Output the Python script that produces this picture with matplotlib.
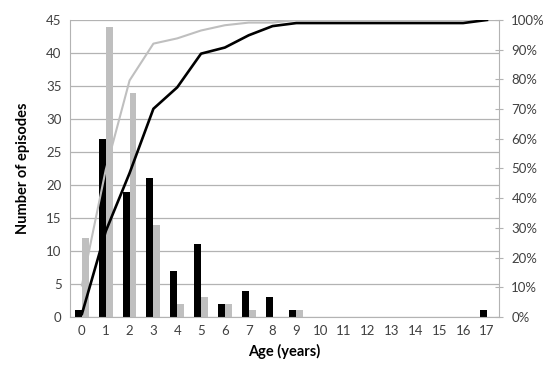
import numpy as np
import matplotlib
matplotlib.use("Agg")
import matplotlib.pyplot as plt
from matplotlib.ticker import PercentFormatter

plt.rcParams['font.family'] = ['Lato', 'DejaVu Sans']

# episodes per age, two groups
ages = list(range(18))
black_counts = [1, 27, 19, 21, 7, 11, 2, 4, 3, 1, 0, 0, 0, 0, 0, 0, 0, 1]
gray_counts = [12, 44, 34, 14, 2, 3, 2, 1, 0, 1, 0, 0, 0, 0, 0, 0, 0, 0]

black_cum = np.cumsum(black_counts) / np.sum(black_counts) * 100
gray_cum = np.cumsum(gray_counts) / np.sum(gray_counts) * 100

fig = plt.figure(figsize=(5.5, 3.7), dpi=100)
ax = fig.add_axes([0.1273, 0.1432, 0.7797, 0.8028])

x = np.arange(len(ages))
w = 0.29
ax.bar(x - w / 2, black_counts, width=w, color="black", zorder=2)
ax.bar(x + w / 2, gray_counts, width=w, color="#bfbfbf", zorder=2)

ax.set_xlim(-0.5, len(ages) - 0.5)
ax.set_ylim(0, 45)
ax.set_yticks(range(0, 46, 5))
ax.set_xticks(x)
ax.set_xticklabels([str(a) for a in ages])
ax.yaxis.grid(True, color="#b3b3b3", linewidth=0.9, zorder=0)
ax.set_axisbelow(True)
ax.tick_params(axis="both", length=0, labelsize=9.5, colors="#404040", pad=6)
for s in ["top", "right"]:
    ax.spines[s].set_visible(False)
for s in ["left", "bottom"]:
    ax.spines[s].set_color("#b3b3b3")
ax.set_ylabel("Number of episodes", fontsize=10.5, fontweight="bold", labelpad=12)
ax.set_xlabel("Age (years)", fontsize=10.5, fontweight="bold", labelpad=5)

ax2 = ax.twinx()
ax2.plot(x, gray_cum, color="#bfbfbf", linewidth=1.5, zorder=3)
ax2.plot(x, black_cum, color="black", linewidth=1.9, zorder=4)
ax2.set_ylim(0, 100)
ax2.set_yticks(range(0, 101, 10))
ax2.yaxis.set_major_formatter(PercentFormatter(decimals=0))
ax2.tick_params(axis="y", direction="inout", length=6, color="#b3b3b3",
                labelsize=9.5, labelcolor="#404040", pad=6)
for s in ["top", "left", "bottom"]:
    ax2.spines[s].set_visible(False)
ax2.spines["right"].set_color("#b3b3b3")

fig.savefig("out.png", dpi=100)
